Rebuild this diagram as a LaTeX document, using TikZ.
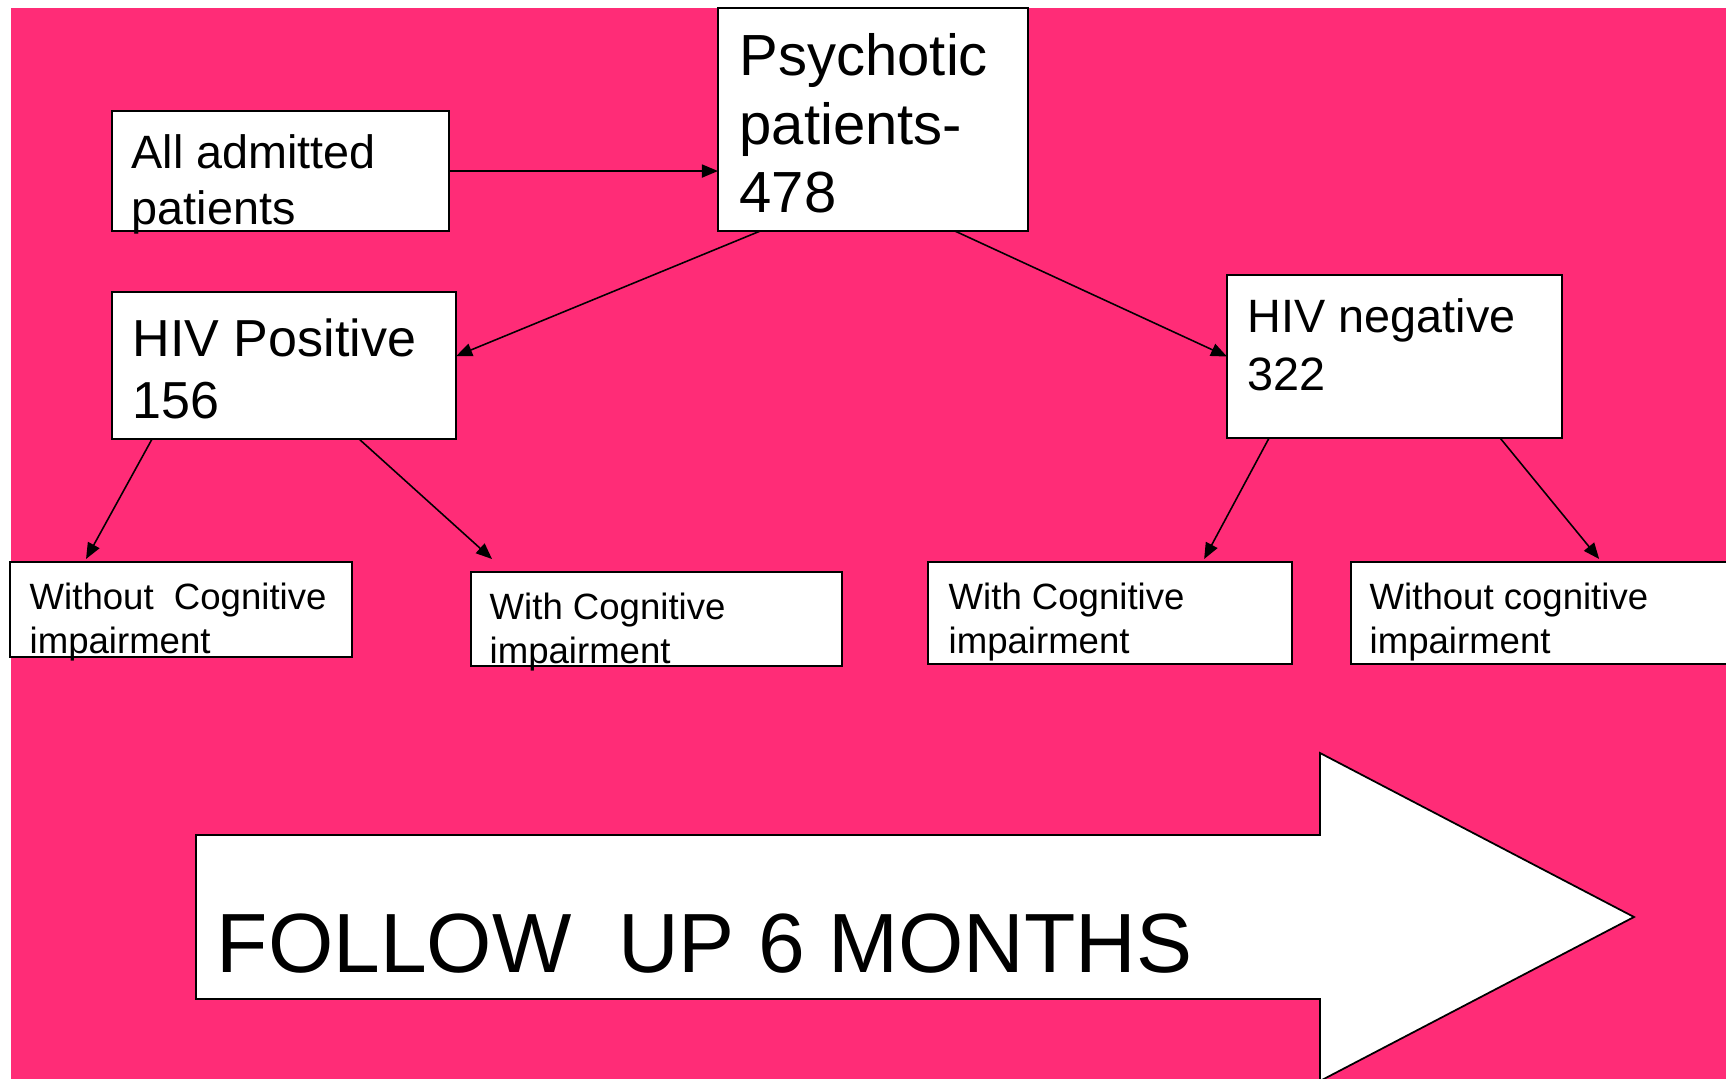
\documentclass[tikz,border=0pt]{standalone}
\usepackage{fontspec}
\setmainfont{Liberation Sans}
\usetikzlibrary{arrows.meta}
\definecolor{bgpink}{RGB}{255,44,119}
\tikzset{
  box/.style={draw, line width=0.55pt, fill=white, anchor=north west, inner sep=0pt, outer sep=0pt},
  txt/.style={anchor=north west, inner sep=0pt, align=left},
  small/.style={txt, font=\fontsize{10.4pt}{12.5pt}\selectfont},
  link/.style={line width=0.45pt, -{Triangle[length=0.16cm,width=0.13cm]}}
}
\begin{document}
\begin{tikzpicture}[x=0.01cm,y=-0.01cm]%study flow
\useasboundingbox (0,0) rectangle (1726,1079);
\clip (0,0) rectangle (1726,1079);
\fill[bgpink] (11,8) rectangle (1740,1090);
\node[box, minimum width=3.37cm, minimum height=1.20cm] (admit) at (112,111) {};
\node[box, minimum width=3.10cm, minimum height=2.23cm] (psych) at (718,8) {};
\node[box, minimum width=3.44cm, minimum height=1.47cm] (hivpos) at (112,292) {};
\node[box, minimum width=3.35cm, minimum height=1.63cm] (hivneg) at (1227,275) {};
\node[box, minimum width=3.42cm, minimum height=0.95cm] (wocogL) at (10,562) {};
\node[box, minimum width=3.71cm, minimum height=0.94cm] (wcogL) at (471,572) {};
\node[box, minimum width=3.64cm, minimum height=1.02cm] (wcogR) at (928,562) {};
\node[box, minimum width=3.89cm, minimum height=1.02cm] (wocogR) at (1351,562) {};
\node[txt, font=\fontsize{13.3pt}{15.9pt}\selectfont] (admittxt) at (131,134) {All admitted\\patients};
\node[txt, font=\fontsize{16.5pt}{19.5pt}\selectfont] (psychtxt) at (739,33) {Psychotic\\patients-\\478};
\node[txt, font=\fontsize{14.8pt}{17.6pt}\selectfont] (hivpostxt) at (132,318) {HIV Positive\\156};
\node[txt, font=\fontsize{13.3pt}{16.5pt}\selectfont] (hivnegtxt) at (1247,298) {HIV negative\\322};
\node[small] (wocogLtxt) at (29,582) {Without\ \ Cognitive\\impairment};
\node[small] (wcogLtxt) at (489,592) {With Cognitive\\impairment};
\node[small] (wcogRtxt) at (948,582) {With Cognitive\\impairment};
\node[small] (wocogRtxt) at (1369,582) {Without cognitive\\impairment};
\draw[link] (admit.east) -- (admit.east -| psych.west);
\draw[link] ([xshift=0.42cm]psych.south west) -- ([yshift=0.095cm]hivpos.east);
\draw[link] ([xshift=2.37cm]psych.south west) -- (hivneg.west);
\draw[link] ([xshift=0.40cm]hivpos.south west) -- ([shift={(0.76cm,0.03cm)}]wocogL.north west);
\draw[link] ([xshift=2.47cm]hivpos.south west) -- ([shift={(0.21cm,0.13cm)}]wcogL.north west);
\draw[link] ([xshift=0.42cm]hivneg.south west) -- ([shift={(2.76cm,0.03cm)}]wcogR.north west);
\draw[link] ([xshift=2.73cm]hivneg.south west) -- ([shift={(2.48cm,0.03cm)}]wocogR.north west);
% follow up arrow
\filldraw[fill=white, draw=black, line width=0.5pt] (196,835) -- (1320,835) -- (1320,753) -- (1634,917)
  -- (1320,1081) -- (1320,999) -- (196,999) -- cycle;
\node[txt, font=\fontsize{23.9pt}{28pt}\selectfont] (follow) at (216,913) {FOLLOW\ \ UP 6 MONTHS};
\end{tikzpicture}
\end{document}
